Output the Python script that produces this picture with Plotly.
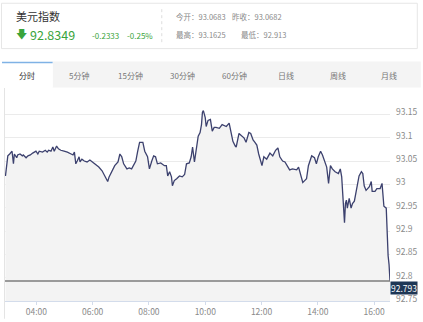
import pandas as pd
import plotly.graph_objects as go

# Intraday US Dollar Index quotes (time of day, index level)
SESSION_DATE = "2017-12-08"
times = ["02:54","02:57","02:59","03:03","03:06","03:08","03:11","03:13","03:18","03:20",
         "03:25","03:30","03:32","03:38","03:42","03:47","03:52","03:56","03:59","04:03",
         "04:06","04:13","04:19","04:23","04:26","04:31","04:35","04:38","04:43","04:47",
         "04:52","04:59","05:06","05:14","05:18","05:21","05:24","05:27","05:31","05:33",
         "05:37","05:42","05:48","05:54","05:59","06:03","06:09","06:13","06:20","06:26",
         "06:32","06:35","06:41","06:47","06:54","06:58","07:02","07:06","07:13","07:18",
         "07:23","07:28","07:32","07:36","07:40","07:47","07:51","07:57","08:01","08:06",
         "08:10","08:14","08:18","08:25","08:33","08:37","08:40","08:44","08:48","08:50",
         "08:54","08:59","09:05","09:11","09:16","09:20","09:26","09:30","09:33","09:37",
         "09:41","09:45","09:49","09:52","09:54","09:56","10:00","10:02","10:06","10:11",
         "10:15","10:19","10:23","10:30","10:36","10:40","10:45","10:51","10:55","10:59",
         "11:04","11:06","11:12","11:18","11:23","11:27","11:33","11:37","11:42","11:46",
         "11:50","11:54","12:01","12:05","12:11","12:18","12:24","12:30","12:35","12:39",
         "12:45","12:50","12:54","13:00","13:06","13:15","13:19","13:23","13:28","13:32",
         "13:36","13:40","13:47","13:53","13:57","14:01","14:06","14:10","14:16","14:19",
         "14:23","14:27","14:31","14:37","14:44","14:48","14:51","14:52","14:54","14:57",
         "14:59","15:01","15:03","15:07","15:11","15:14","15:18","15:20","15:24","15:28",
         "15:33","15:36","15:39","15:43","15:50","15:54","15:56","16:02","16:06","16:13",
         "16:17","16:21","16:26","16:28","16:30","16:32","16:34"]
prices = [93.018,93.050,93.061,93.065,93.069,93.071,93.044,93.065,93.057,93.063,
          93.065,93.061,93.063,93.057,93.061,93.063,93.067,93.069,93.071,93.065,
          93.071,93.069,93.073,93.069,93.073,93.071,93.080,93.071,93.082,93.076,
          93.073,93.071,93.069,93.065,93.063,93.069,93.044,93.050,93.059,93.048,
          93.054,93.050,93.048,93.052,93.048,93.044,93.040,93.037,93.029,93.016,
          93.006,93.016,93.029,93.040,93.048,93.065,93.059,93.044,93.033,93.035,
          93.033,93.044,93.050,93.071,93.090,93.090,93.071,93.059,93.033,93.050,
          93.061,93.059,93.044,93.046,93.040,93.040,93.018,93.027,93.016,92.997,
          93.008,93.012,93.018,93.016,93.021,93.044,93.046,93.059,93.080,93.048,
          93.071,93.103,93.111,93.128,93.154,93.158,93.143,93.124,93.137,93.139,
          93.114,93.122,93.122,93.120,93.128,93.126,93.124,93.131,93.114,93.092,
          93.082,93.080,93.109,93.103,93.099,93.090,93.111,93.109,93.095,93.090,
          93.084,93.065,93.040,93.059,93.054,93.067,93.061,93.073,93.078,93.059,
          93.050,93.048,93.040,93.031,93.033,93.031,93.037,93.023,93.004,93.008,
          93.012,93.040,93.061,93.057,93.044,93.059,93.071,93.063,93.046,93.037,
          93.002,93.040,93.033,93.027,93.023,93.033,93.016,92.997,92.970,92.918,
          92.959,92.966,92.949,92.970,92.949,92.959,92.964,92.974,92.995,93.018,
          93.027,93.023,92.997,92.987,92.995,93.006,92.985,92.985,92.991,92.991,
          93.002,92.953,92.949,92.879,92.847,92.828,92.793]
assert len(times) == len(prices)

# Header quote fields
name = "美元指数"
last_quote = "92.8349"
change = "-0.2333"
change_pct = "-0.25%"
stats_row1 = ["今开：93.0683", "昨收：93.0682"]
stats_row2 = ["最高：93.1625", "最低：92.913"]
tabs = ["分时", "5分钟", "15分钟", "30分钟", "60分钟", "日线", "周线", "月线"]

# Axis ticks
y_ticks = [92.75, 92.8, 92.85, 92.9, 92.95, 93.0, 93.05, 93.1, 93.15]
y_ticktext = ["92.75", "92.8", "92.85", "92.9", "92.95", "93", "93.05", "93.1", "93.15"]
y_range = [92.75, 93.2]
x_start, x_end = "02:53", "16:34"

ts = pd.to_datetime([f"{SESSION_DATE} {t}" for t in times])
last_price = prices[-1]

W, H = 423, 322
ML, MR, MT, MB = 5, 30, 91, 18
PW, PH = W - ML - MR, H - MT - MB


def fx(px):
    return (px - ML) / PW


def fy(py):
    return (H - MB - py) / PH


FONT = "Noto Sans CJK SC, Noto Sans, sans-serif"
GREEN = "#3aa43c"
GREY = "#8a8a8a"

fig = go.Figure()
fig.add_trace(go.Scatter(
    x=ts, y=prices, mode="lines",
    line=dict(color="#3c416e", width=1.3),
    fill="tozeroy", fillcolor="#f3f3f3",
    hoverinfo="skip", showlegend=False,
))

shapes = []
annotations = []

# header card
shapes.append(dict(type="rect", xref="paper", yref="paper",
                   x0=fx(1.5), x1=fx(420.5), y0=fy(2), y1=fy(48),
                   line=dict(color="#e6e6e6", width=1), fillcolor="white", layer="below"))
shapes.append(dict(type="line", xref="paper", yref="paper",
                   x0=fx(163), x1=fx(163), y0=fy(8), y1=fy(42),
                   line=dict(color="#dddddd", width=1, dash="dot")))

annotations.append(dict(text=name, x=fx(14), y=fy(15), font=dict(size=11, color="#333333")))
annotations.append(dict(text="🡇", x=fx(14), y=fy(34), font=dict(size=11, color=GREEN, family="DejaVu Sans")))
annotations.append(dict(text=last_quote, x=fx(28), y=fy(34), font=dict(size=12.5, color=GREEN)))
annotations.append(dict(text=change, x=fx(91), y=fy(35), font=dict(size=8, color=GREEN)))
annotations.append(dict(text=change_pct, x=fx(126), y=fy(35), font=dict(size=8, color=GREEN)))
for txt, px in zip(stats_row1, [175, 232]):
    annotations.append(dict(text=txt, x=fx(px), y=fy(15), font=dict(size=7.5, color=GREY)))
for txt, px in zip(stats_row2, [175, 241]):
    annotations.append(dict(text=txt, x=fx(px), y=fy(34), font=dict(size=7.5, color=GREY)))

# period tabs
shapes.append(dict(type="rect", xref="paper", yref="paper",
                   x0=fx(53), x1=fx(424), y0=fy(61), y1=fy(87.5),
                   line=dict(width=0), fillcolor="#f4f4f4", layer="below"))
shapes.append(dict(type="rect", xref="paper", yref="paper",
                   x0=fx(2), x1=fx(53), y0=fy(61), y1=fy(87.5),
                   line=dict(width=0), fillcolor="white", layer="below"))
shapes.append(dict(type="line", xref="paper", yref="paper",
                   x0=fx(2), x1=fx(53), y0=fy(62), y1=fy(62),
                   line=dict(color="#7fb2e5", width=1.5)))
for i, tab in enumerate(tabs):
    annotations.append(dict(text=tab, x=fx(27 + 52.2 * i), y=fy(75), xanchor="center",
                            font=dict(size=8, color="#333333" if i == 0 else "#777777")))

# chart frame on the left
shapes.append(dict(type="line", xref="paper", yref="paper",
                   x0=fx(4.5), x1=fx(4.5), y0=fy(88), y1=fy(322),
                   line=dict(color="#e4e4e4", width=1)))

# last-price line and its tag
shapes.append(dict(type="line", xref="paper", yref="y", x0=0, x1=1,
                   y0=last_price, y1=last_price,
                   line=dict(color="#7d7d7d", width=1.5)))
annotations.append(dict(text=f"{last_price:.3f}", x=1, xref="paper", y=last_price, yref="y",
                        xanchor="left", yanchor="top", bgcolor="#1e3756", borderpad=0,
                        font=dict(size=8.5, color="white")))

for a in annotations:
    a.setdefault("xref", "paper")
    a.setdefault("yref", "paper")
    a.setdefault("xanchor", "left")
    a.setdefault("yanchor", "middle")
    a["showarrow"] = False

fig.update_layout(
    width=W, height=H,
    margin=dict(l=ML, r=MR, t=MT, b=MB),
    paper_bgcolor="white", plot_bgcolor="white",
    font=dict(family=FONT),
    shapes=shapes, annotations=annotations,
    xaxis=dict(
        type="date",
        range=[f"{SESSION_DATE} {x_start}", f"{SESSION_DATE} {x_end}"],
        tick0=f"{SESSION_DATE} 04:00", dtick=2 * 3600 * 1000, tickformat="%H:%M",
        showgrid=False, zeroline=False,
        showline=True, linecolor="#d3dceb", linewidth=1,
        ticks="outside", ticklen=3, tickcolor="#d3dceb",
        tickfont=dict(size=8.5, color=GREY),
    ),
    yaxis=dict(
        side="right", range=y_range,
        tickvals=y_ticks, ticktext=y_ticktext,
        showgrid=True, gridcolor="#ebebeb", gridwidth=1, zeroline=False,
        ticks="", ticklabelshift=-2, ticklabelstandoff=5,
        tickfont=dict(size=8.5, color=GREY),
    ),
)

fig.write_html("out.html")
